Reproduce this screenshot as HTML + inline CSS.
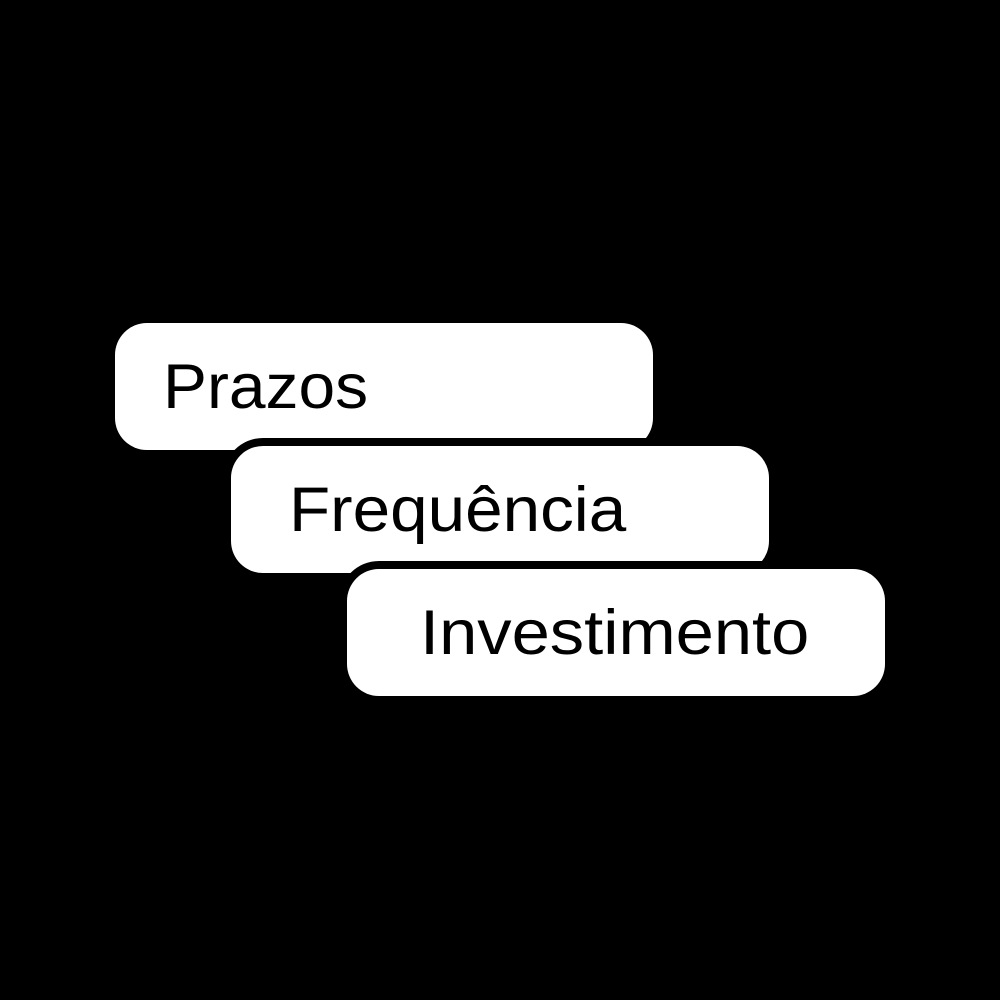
<!DOCTYPE html>
<html><head><style>
body{margin:0;width:1000px;height:1000px;background:#000;position:relative;overflow:hidden;font-family:"Liberation Sans",sans-serif}
.b{position:absolute;width:538px;height:127px;background:#fff;border-radius:32px;box-shadow:0 0 0 8px #000}
.t{position:absolute;font-size:63px;color:#000;line-height:1;white-space:nowrap;transform-origin:left center}
</style></head><body>
<div class="b" style="left:115px;top:323px"></div>
<div class="t" style="left:163px;top:356px;transform:scaleX(1.046)">Prazos</div>
<div class="b" style="left:231px;top:446px"></div>
<div class="t" style="left:289px;top:479px;transform:scaleX(1.07)">Frequência</div>
<div class="b" style="left:347px;top:569px"></div>
<div class="t" style="left:420px;top:602px;transform:scaleX(1.09)">Investimento</div>
</body></html>
